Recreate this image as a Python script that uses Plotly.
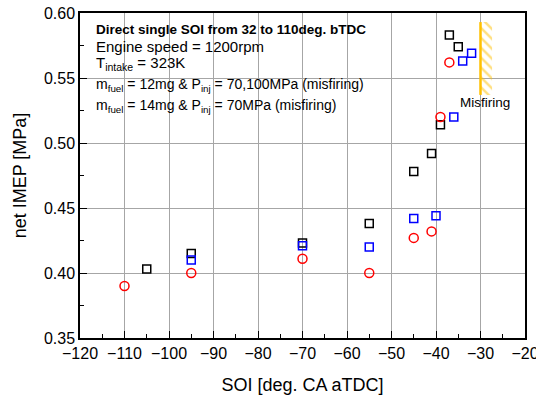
import plotly.graph_objects as go

# Data
black_x = [-105, -95, -70, -55, -45, -41, -39, -35, -37]
black_y = [0.403, 0.415, 0.423, 0.438, 0.478, 0.492, 0.514, 0.574, 0.583]
blue_x = [-95, -70, -55, -45, -40, -36, -34, -32]
blue_y = [0.410, 0.421, 0.420, 0.442, 0.444, 0.520, 0.563, 0.569]
red_x = [-110, -95, -70, -55, -45, -41, -39, -37]
red_y = [0.390, 0.400, 0.411, 0.400, 0.427, 0.432, 0.520, 0.562]

misfire_x0, misfire_x1 = -30, -27.4
misfire_y0, misfire_y1 = 0.537, 0.593

x_ticks = list(range(-120, -19, 10))
y_ticks = [0.35, 0.40, 0.45, 0.50, 0.55, 0.60]

FONT = "Liberation Sans, Arial, sans-serif"
GOLD = "#FFC000"

fig = go.Figure()

# hatched misfiring region
fig.add_trace(go.Scatter(
    x=[misfire_x0, misfire_x1, misfire_x1, misfire_x0, misfire_x0],
    y=[misfire_y1, misfire_y1, misfire_y0, misfire_y0, misfire_y1],
    mode="lines", fill="toself", line=dict(width=0, color="rgba(0,0,0,0)"),
    fillcolor="rgba(0,0,0,0)",
    fillpattern=dict(shape="\\", fgcolor=GOLD, bgcolor="rgba(0,0,0,0)", size=7, solidity=0.35),
    hoverinfo="skip", showlegend=False))
fig.add_trace(go.Scatter(
    x=[misfire_x0, misfire_x0], y=[misfire_y0, misfire_y1], mode="lines",
    line=dict(color=GOLD, width=2.5), showlegend=False, hoverinfo="skip"))

fig.add_trace(go.Scatter(x=black_x, y=black_y, mode="markers", showlegend=False,
    marker=dict(symbol="square-open", size=8, color="#000000", line=dict(width=1.5))))
fig.add_trace(go.Scatter(x=blue_x, y=blue_y, mode="markers", showlegend=False,
    marker=dict(symbol="square-open", size=8, color="#0000ff", line=dict(width=1.5))))
fig.add_trace(go.Scatter(x=red_x, y=red_y, mode="markers", showlegend=False,
    marker=dict(symbol="circle-open", size=9, color="#ff0000", line=dict(width=1.5))))

fig.update_xaxes(
    range=[-120, -20], tickvals=x_ticks, ticks="inside", ticklen=7, tickwidth=1.2,
    tickcolor="#000", showline=True, linecolor="#000", linewidth=1.5, mirror=True,
    showgrid=True, gridcolor="#a6a6a6", gridwidth=1, zeroline=False, automargin=False,
    ticklabeloverflow="allow",
    minor=dict(dtick=5, ticks="inside", ticklen=4, tickcolor="#000", showgrid=False),
    tickfont=dict(size=16, family=FONT, color="#000"),
    title=dict(text="SOI [deg. CA aTDC]", font=dict(size=18, family=FONT, color="#000"), standoff=17))
fig.update_yaxes(
    range=[0.35, 0.60], tickvals=y_ticks, tickformat=".2f", ticks="inside", ticklen=7, tickwidth=1.2,
    tickcolor="#000", showline=True, linecolor="#000", linewidth=1.5, mirror=True,
    showgrid=True, gridcolor="#a6a6a6", gridwidth=1, zeroline=False, automargin=False,
    ticklabeloverflow="allow",
    minor=dict(dtick=0.025, ticks="inside", ticklen=4, tickcolor="#000", showgrid=False),
    tickfont=dict(size=16, family=FONT, color="#000"),
    title=dict(text="net IMEP [MPa]", font=dict(size=18, family=FONT, color="#000"), standoff=13))

lines = [
    ("<b>Direct single SOI from 32 to 110deg. bTDC</b>", 0.950, 13.5),
    ("Engine speed = 1200rpm", 0.898, 15),
    ("T<sub>intake</sub> = 323K", 0.844, 15),
    ("m<sub>fuel</sub> = 12mg & P<sub>inj</sub> = 70,100MPa (misfiring)", 0.777, 14),
    ("m<sub>fuel</sub> = 14mg & P<sub>inj</sub> = 70MPa (misfiring)", 0.715, 14),
]
for txt, yy, fs in lines:
    fig.add_annotation(text=txt, xref="paper", yref="paper", x=0.032, y=yy,
        xanchor="left", yanchor="middle", showarrow=False,
        font=dict(size=fs, family=FONT, color="#000"))

fig.add_annotation(text="Misfiring", x=-29.0, y=0.531, xref="x", yref="y",
    showarrow=False, xanchor="center", yanchor="middle",
    font=dict(size=13.5, family=FONT, color="#000"))

fig.update_layout(width=536, height=396, margin=dict(l=80, r=11, t=13, b=58),
    plot_bgcolor="white", paper_bgcolor="white")

# remove the page's default 8px body margin so the figure fills the window
fig.write_html("out.html", config={"displayModeBar": False},
               post_script="document.body.style.margin='0';document.body.style.overflow='hidden';")
